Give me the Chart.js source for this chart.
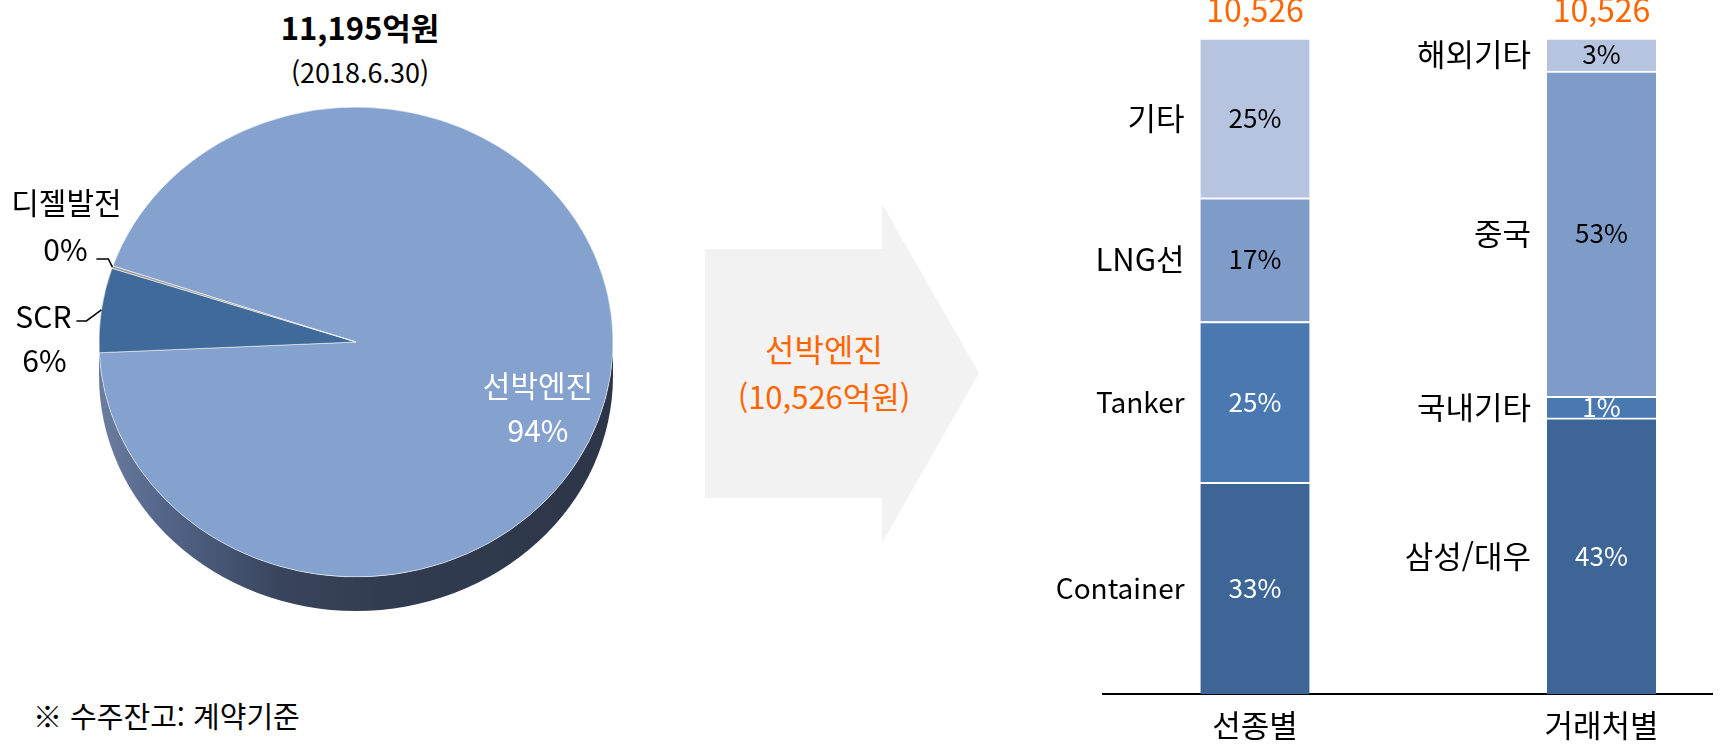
<!DOCTYPE html>
<html lang="ko">
<head>
<meta charset="utf-8">
<script src="https://cdn.jsdelivr.net/npm/chart.js@4.4.1/dist/chart.umd.min.js"></script>
<style>
  html, body { margin: 0; padding: 0; background: #fff; }
  body { width: 1725px; height: 744px; position: relative; overflow: hidden; font-family: 'Noto Sans CJK KR', sans-serif; }
  #pieWrap { position: absolute; left: 0; top: 0; width: 712px; height: 744px; }
  #barWrap { position: absolute; left: 1000px; top: 0; width: 725px; height: 744px; }
  .txt { position: absolute; white-space: nowrap; transform: translate(-50%, -50%); line-height: 1; }
  #arrow {
    position: absolute; left: 705px; top: 204px; width: 274px; height: 339px; background: #f2f2f2;
    clip-path: polygon(0 45px, 177px 45px, 177px 0, 274px 169px, 177px 339px, 177px 294px, 0 294px);
  }
</style>
</head>
<body>
<div class="txt" style="left:360px; top:26px; font-size:31px; font-weight:bold;">11,195억원</div>
<div class="txt" style="left:360px; top:71px; font-size:27px;">(2018.6.30)</div>
<div class="txt" style="left:33px; top:715px; font-size:29px; transform:translate(0,-50%);">※ 수주잔고: 계약기준</div>
<div id="arrow"></div>
<div class="txt" style="left:824px; top:348px; font-size:32px; color:#ff6600;">선박엔진</div>
<div class="txt" style="left:824px; top:395px; font-size:31px; color:#ff6600;">(10,526억원)</div>
<div id="pieWrap"><canvas id="pie"></canvas></div>
<div id="barWrap"><canvas id="bar"></canvas></div>
<script>
// 수주잔고 구성 (억원)
const pieLabels = ['선박엔진', 'SCR', '디젤발전'];
const pieValues = [10526, 650, 19];
const pieColors = ['#85a1cd', '#3f6a99', '#9b9b9b'];

// 선박엔진 10,526억원 세부
const categories = ['선종별', '거래처별'];
const shipTypes = ['Container', 'Tanker', 'LNG선', '기타'];
const shipValues = [3396, 2581, 1986, 2563];
const shipPct = ['33%', '25%', '17%', '25%'];
const customers = ['삼성/대우', '국내기타', '중국', '해외기타'];
const customerValues = [4430, 348, 5219, 529];
const customerPct = ['43%', '1%', '53%', '3%'];

const levelColors = ['#3d6595', '#4a78b0', '#7f9cc8', '#b6c4df'];
const levelText = ['#fff', '#fff', '#000', '#000'];
const FONT = "'Noto Sans CJK KR', sans-serif";

const tilt = 0.914;
const depth = 34;
const xMin = -0.4387, xMax = 1.3189;

const pie3d = {
  id: 'pie3d',
  beforeDatasetsDraw(chart) {
    const ctx = chart.ctx;
    const arc = chart.getDatasetMeta(0).data[0];
    const cx = arc.x, cy = arc.y, r = arc.outerRadius, ry = r * tilt;
    const g = ctx.createLinearGradient(cx - r, 0, cx + r, 0);
    g.addColorStop(0, '#6b7ea0');
    g.addColorStop(0.12, '#54668a');
    g.addColorStop(0.35, '#39455d');
    g.addColorStop(0.55, '#323c51');
    g.addColorStop(1, '#2d3648');
    ctx.save();
    ctx.beginPath();
    ctx.ellipse(cx, cy, r, ry, 0, 0, Math.PI);
    ctx.lineTo(cx - r, cy + depth);
    ctx.ellipse(cx, cy + depth, r, ry, 0, Math.PI, 0, true);
    ctx.closePath();
    ctx.fillStyle = g;
    ctx.fill();
    ctx.restore();
    // squash the pie into the top face of the disc
    ctx.save();
    ctx.translate(cx, cy);
    ctx.scale(1, tilt);
    ctx.translate(-cx, -cy);
  },
  afterDatasetsDraw(chart) {
    const ctx = chart.ctx;
    ctx.restore();
    const meta = chart.getDatasetMeta(0);
    const arc = meta.data[0];
    const cx = arc.x, cy = arc.y, r = arc.outerRadius, ry = r * tilt;
    const total = pieValues.reduce((a, b) => a + b, 0);
    const pct = v => Math.round(v / total * 100) + '%';
    ctx.save();
    ctx.font = '30px ' + FONT;
    ctx.textAlign = 'center';
    ctx.textBaseline = 'middle';
    ctx.fillStyle = '#fff';
    ctx.fillText(pieLabels[0], cx + 182, cy + 44);
    ctx.fillText(pct(pieValues[0]), cx + 182, cy + 89);
    // outside labels with leader lines
    const lead = {
      1: { elbow: [-15, 11], run: -10, t1: [-33, -4], t2: [-32, 40] },
      2: { elbow: [-4, -8], run: -12, t1: [-30, -57], t2: [-31, -10] }
    };
    ctx.fillStyle = '#000';
    ctx.strokeStyle = '#000';
    ctx.lineWidth = 1.5;
    [1, 2].forEach(k => {
      const a = meta.data[k];
      const m = (a.startAngle + a.endAngle) / 2;
      const ex = cx + r * Math.cos(m), ey = cy + ry * Math.sin(m);
      const L = lead[k];
      const bx = ex + L.elbow[0], by = ey + L.elbow[1];
      const hx = bx + L.run;
      ctx.beginPath();
      ctx.moveTo(ex, ey);
      ctx.lineTo(bx, by);
      ctx.lineTo(hx, by);
      ctx.stroke();
      ctx.fillText(pieLabels[k], hx + L.t1[0], by + L.t1[1]);
      ctx.fillText(pct(pieValues[k]), hx + L.t2[0], by + L.t2[1]);
    });
    ctx.restore();
  }
};

new Chart(document.getElementById('pie'), {
  type: 'pie',
  data: {
    labels: pieLabels,
    datasets: [{
      data: pieValues,
      backgroundColor: pieColors,
      borderColor: 'rgba(255,255,255,0.55)',
      borderWidth: 1,
      clip: false
    }]
  },
  options: {
    responsive: true,
    maintainAspectRatio: false,
    animation: false,
    events: [],
    rotation: 288.9,
    radius: 257,
    layout: { padding: { left: 99, right: 99, top: 85, bottom: 145 } },
    plugins: { legend: { display: false }, tooltip: { enabled: false } }
  },
  plugins: [pie3d]
});

const barLabels = {
  id: 'barLabels',
  afterDatasetsDraw(chart) {
    const ctx = chart.ctx;
    const names = [shipTypes, customers];
    const pcts = [shipPct, customerPct];
    ctx.save();
    ctx.textBaseline = 'middle';
    chart.data.datasets.forEach((ds, i) => {
      chart.getDatasetMeta(i).data.forEach((el, j) => {
        const left = el.x - el.width / 2;
        const mid = (el.y + el.base) / 2;
        ctx.save();
        ctx.beginPath();
        ctx.rect(left, el.y, el.width, el.base - el.y);
        ctx.clip();
        ctx.font = '26px ' + FONT;
        ctx.textAlign = 'center';
        ctx.fillStyle = levelText[i];
        ctx.fillText(pcts[j][i], el.x, mid);
        ctx.restore();
        const name = names[j][i];
        ctx.font = (/[가-힣]/.test(name) ? 31 : 28) + 'px ' + FONT;
        ctx.textAlign = 'right';
        ctx.fillStyle = '#000';
        ctx.fillText(name, left - 16, mid);
      });
    });
    const topMeta = chart.getDatasetMeta(chart.data.datasets.length - 1);
    const totals = [shipValues, customerValues].map(v => v.reduce((a, b) => a + b, 0));
    ctx.font = '32px ' + FONT;
    ctx.textAlign = 'center';
    ctx.fillStyle = '#ff6600';
    topMeta.data.forEach((el, j) => {
      ctx.fillText(totals[j].toLocaleString('en-US'), el.x, el.y - 28);
    });
    ctx.restore();
  }
};

new Chart(document.getElementById('bar'), {
  type: 'bar',
  data: {
    datasets: levelColors.map((c, i) => ({
      label: shipTypes[i] + ' / ' + customers[i],
      data: [{ x: 0, y: shipValues[i] }, { x: 1, y: customerValues[i] }],
      backgroundColor: c,
      borderColor: '#fff',
      borderWidth: { top: 2, left: 0, right: 0, bottom: 0 },
      borderSkipped: false,
      barThickness: 109,
      grouped: false
    }))
  },
  options: {
    responsive: true,
    maintainAspectRatio: false,
    animation: false,
    events: [],
    layout: { padding: { left: 103, right: 13, top: 38, bottom: 0 } },
    scales: {
      x: {
        type: 'linear',
        bounds: 'data',
        offset: false,
        min: xMin,
        max: xMax,
        grid: { display: false, drawTicks: false },
        border: { display: true, color: '#000', width: 2 },
        afterDataLimits: s => { s.min = xMin; s.max = xMax; },
        afterBuildTicks: s => { s.ticks = categories.map((c, i) => ({ value: i })); },
        afterFit: s => { s.height = 50; },
        ticks: {
          padding: 13,
          color: '#000',
          font: { family: FONT, size: 31 },
          callback: v => categories[v]
        }
      },
      y: { stacked: true, min: 0, max: 10526, display: false }
    },
    plugins: { legend: { display: false }, tooltip: { enabled: false } }
  },
  plugins: [barLabels]
});
</script>
</body>
</html>
